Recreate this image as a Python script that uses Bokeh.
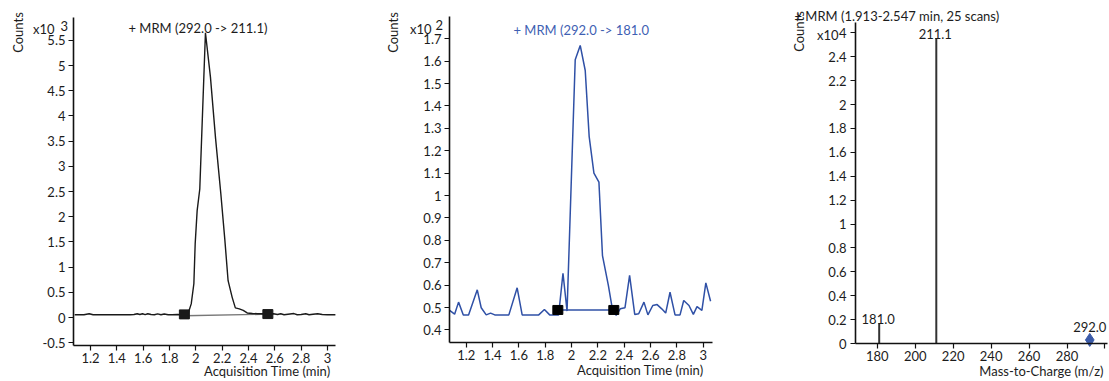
import math
from bokeh.plotting import figure
from bokeh.layouts import row
from bokeh.models import Range1d, FixedTicker, CustomJSTickFormatter, Label, ColumnDataSource
from bokeh.core.properties import value
from bokeh.embed import file_html
from bokeh.resources import INLINE

FONT = "Lato"
TXT = "#1c1c1c"
BLUE = "#2f50a6"
H = 381

# ---------------- data ----------------
# Panel 1: + MRM (292.0 -> 211.1), counts x10^3
t1 = [1.08, 1.12, 1.15, 1.19, 1.22, 1.26, 1.30, 1.34, 1.38, 1.42, 1.46, 1.50, 1.53, 1.555,
      1.575, 1.595, 1.615, 1.635, 1.66, 1.685, 1.71, 1.735, 1.76, 1.79, 1.82, 1.86, 1.90,
      1.94, 1.965, 1.985, 1.995, 2.01, 2.03, 2.073, 2.111, 2.15, 2.19, 2.22, 2.245, 2.276,
      2.30, 2.33, 2.36, 2.39, 2.43, 2.47, 2.51, 2.55, 2.59, 2.62, 2.645, 2.67, 2.70, 2.745,
      2.77, 2.80, 2.835, 2.86, 2.89, 2.925, 2.96, 3.00, 3.06]
v1 = [0.055, 0.055, 0.055, 0.075, 0.055, 0.055, 0.055, 0.055, 0.055, 0.055, 0.055, 0.055, 0.06, 0.075,
      0.06, 0.075, 0.058, 0.075, 0.06, 0.055, 0.072, 0.055, 0.07, 0.055, 0.055, 0.06, 0.055,
      0.07, 0.27, 0.67, 1.46, 2.12, 2.55, 5.65, 4.77, 3.55, 2.45, 1.55, 0.73, 0.40,
      0.19, 0.17, 0.14, 0.09, 0.08, 0.075, 0.075, 0.07, 0.075, 0.06, 0.075, 0.055, 0.065, 0.078,
      0.055, 0.06, 0.075, 0.055, 0.065, 0.075, 0.06, 0.055, 0.055]
int1_t = [1.913, 2.547]
int1_v = [0.062, 0.068]
base1_v = [0.035, 0.065]

# Panel 2: + MRM (292.0 -> 181.0), counts x10^2
t2 = [1.074, 1.112, 1.142, 1.178, 1.218, 1.284, 1.314, 1.352, 1.385, 1.417, 1.524, 1.587, 1.625,
      1.751, 1.794, 1.834, 1.902, 1.935, 1.966, 2.028, 2.066, 2.104, 2.134, 2.17, 2.208, 2.235,
      2.28, 2.31, 2.339, 2.37, 2.406, 2.441, 2.48, 2.51, 2.55, 2.58, 2.617, 2.65, 2.685, 2.715,
      2.748, 2.786, 2.824, 2.852, 2.892, 2.925, 2.953, 2.99, 3.02, 3.056]
v2 = [0.487, 0.47, 0.524, 0.467, 0.467, 0.579, 0.499, 0.467, 0.475, 0.467, 0.467, 0.588, 0.467,
      0.467, 0.491, 0.467, 0.467, 0.653, 0.484, 1.606, 1.67, 1.558, 1.263, 1.10, 1.06, 0.732,
      0.598, 0.494, 0.465, 0.494, 0.499, 0.643, 0.469, 0.472, 0.524, 0.467, 0.509, 0.513, 0.494, 0.475,
      0.568, 0.467, 0.467, 0.531, 0.509, 0.469, 0.504, 0.487, 0.61, 0.528]
int2_t = [1.896, 2.321]
int2_v = [0.489, 0.489]

# Panel 3: spectrum, counts x10^4
peak_mz = [181.0, 211.1]
peak_int = [0.17, 2.556]
peak_label = ["181.0", "211.1"]
prec_mz = [292.0]
prec_int = [0.03]
prec_label = ["292.0"]

# ticks
x_ticks_time = [1.2, 1.4, 1.6, 1.8, 2.0, 2.2, 2.4, 2.6, 2.8, 3.0]
x_labels_time = ["1.2", "1.4", "1.6", "1.8", "2", "2.2", "2.4", "2.6", "2.8", "3"]
y1_ticks = [-0.5, 0, 0.5, 1, 1.5, 2, 2.5, 3, 3.5, 4, 4.5, 5, 5.5]
y1_labels = ["-0.5", "0", "0.5", "1", "1.5", "2", "2.5", "3", "3.5", "4", "4.5", "5", "5.5"]
y2_ticks = [0.4, 0.5, 0.6, 0.7, 0.8, 0.9, 1.0, 1.1, 1.2, 1.3, 1.4, 1.5, 1.6, 1.7]
y2_labels = ["0.4", "0.5", "0.6", "0.7", "0.8", "0.9", "1", "1.1", "1.2", "1.3", "1.4", "1.5", "1.6", "1.7"]
x3_ticks = [180, 200, 220, 240, 260, 280, 300]
x3_labels = ["180", "200", "220", "240", "260", "280", ""]
y3_ticks = [0, 0.2, 0.4, 0.6, 0.8, 1.0, 1.2, 1.4, 1.6, 1.8, 2.0, 2.2, 2.4, 2.6]
y3_labels = ["0", "0.2", "0.4", "0.6", "0.8", "1", "1.2", "1.4", "1.6", "1.8", "2", "2.2", "2.4", "4"]


# ---------------- helpers ----------------
def fmt(tick_list, label_list):
    return CustomJSTickFormatter(args=dict(tk=tick_list, lb=label_list), code="""
        for (let i = 0; i < tk.length; i++) { if (Math.abs(tk[i] - tick) < 1e-9) return lb[i]; }
        return "";
    """)


def make_fig(width, xr, yr, x_axis_at, y_axis_at, xb, yb, xt, xl, yt, yl):
    p = figure(width=width, height=H, x_range=Range1d(*xr), y_range=Range1d(*yr),
               output_backend="svg", toolbar_location=None, title=None,
               min_border_left=0, min_border_right=0, min_border_top=0, min_border_bottom=0)
    p.outline_line_color = None
    p.grid.visible = False
    p.background_fill_color = "white"
    p.border_fill_color = "white"
    for ax in p.axis:
        ax.axis_line_color = "#111111"
        ax.axis_line_width = 1.6
        ax.major_tick_line_color = "#111111"
        ax.major_tick_line_width = 1.2
        ax.major_tick_in = 0
        ax.major_tick_out = 5
        ax.minor_tick_line_color = None
        ax.major_label_text_font = FONT
        ax.major_label_text_font_size = "13px"
        ax.major_label_text_color = TXT
    p.xaxis.fixed_location = x_axis_at
    p.yaxis.fixed_location = y_axis_at
    p.xaxis.bounds = xb
    p.yaxis.bounds = yb
    p.xaxis.ticker = FixedTicker(ticks=xt)
    p.xaxis.formatter = fmt(xt, xl)
    p.yaxis.ticker = FixedTicker(ticks=yt)
    p.yaxis.formatter = fmt(yt, yl)
    p.xaxis.major_label_standoff = 2
    p.yaxis.major_label_standoff = 3
    return p


def add_text(p, fig_left, ix, iy, text, align="left", color=TXT, angle=0.0, base="middle"):
    p.add_layout(Label(x=ix - fig_left, y=H - iy, x_units="screen", y_units="screen",
                       text=text, text_align=align, text_baseline=base, text_font=FONT,
                       text_font_size="13px", text_color=color, angle=angle))


# ---------------- panel 1 (image x 0..370) ----------------
k1 = 131.67   # px per minute
ky1 = 50.4    # px per 1e3 counts
x0_1 = 1.2 - 90 / k1
y0_1 = 317 / ky1
p1 = make_fig(370, (x0_1, x0_1 + 370 / k1), (y0_1 - H / ky1, y0_1),
              x_axis_at=y0_1 - 345 / ky1, y_axis_at=x0_1 + 73 / k1,
              xb=(x0_1 + 73 / k1, x0_1 + 335 / k1), yb=(y0_1 - 345 / ky1, y0_1 - 17 / ky1),
              xt=x_ticks_time, xl=x_labels_time, yt=y1_ticks, yl=y1_labels)
p1.line(int1_t, base1_v, line_color="#777777", line_width=1.3)
p1.line(t1, v1, line_color="#1a1a1a", line_width=1.4)
p1.rect(int1_t, int1_v, width=10, height=9, width_units="screen", height_units="screen",
        fill_color="#1a1a1a", line_color="#1a1a1a")
add_text(p1, 0, 17, 32, "Counts", align="center", angle=math.pi / 2)
add_text(p1, 0, 54, 28, "x10", align="right")
add_text(p1, 0, 60, 25, "3")
add_text(p1, 0, 128, 27, "+ MRM (292.0 -> 211.1)")
add_text(p1, 0, 330, 370, "Acquisition Time (min)", align="right")

# ---------------- panel 2 (image x 370..740) ----------------
k2 = 131.67
ky2 = 224.0
x0_2 = 1.2 - (465.7 - 370) / k2
y0_2 = 0.5 + 307 / ky2
p2 = make_fig(370, (x0_2, x0_2 + 370 / k2), (y0_2 - H / ky2, y0_2),
              x_axis_at=y0_2 - 342 / ky2, y_axis_at=x0_2 + 79 / k2,
              xb=(x0_2 + 79 / k2, x0_2 + 342 / k2), yb=(y0_2 - 342 / ky2, y0_2 - 16 / ky2),
              xt=x_ticks_time, xl=x_labels_time, yt=y2_ticks, yl=y2_labels)
p2.line(int2_t, int2_v, line_color=BLUE, line_width=1.5)
p2.line(t2, v2, line_color=BLUE, line_width=1.5)
p2.rect(int2_t, int2_v, width=10, height=9, width_units="screen", height_units="screen",
        fill_color="#000000", line_color="#000000")
add_text(p2, 370, 392, 32, "Counts", align="center", angle=math.pi / 2)
add_text(p2, 370, 431, 28, "x10", align="right")
add_text(p2, 370, 435, 24, "2")
add_text(p2, 370, 513, 29, "+ MRM (292.0 -> 181.0", color="#3f5fb3")
add_text(p2, 370, 703, 369, "Acquisition Time (min)", align="right")

# ---------------- panel 3 (image x 740..1109) ----------------
k3 = 1.897    # px per m/z unit
ky3 = 119.5   # px per 1e4 counts
x0_3 = 180 - (876.8 - 740) / k3
y0_3 = 343 / ky3
p3 = make_fig(369, (x0_3, x0_3 + 369 / k3), (y0_3 - H / ky3, y0_3),
              x_axis_at=0, y_axis_at=x0_3 + 115 / k3,
              xb=(x0_3 + 115 / k3, x0_3 + 367 / k3), yb=(0, y0_3 - 22 / ky3),
              xt=x3_ticks, xl=x3_labels, yt=y3_ticks, yl=y3_labels)
p3.yaxis.major_label_standoff = 4
src_pk = ColumnDataSource(dict(mz=peak_mz, inten=peak_int, lab=peak_label, zero=[0] * len(peak_mz)))
p3.segment(x0="mz", y0="zero", x1="mz", y1="inten", source=src_pk, line_color="#333333", line_width=2)
p3.text(x="mz", y="inten", text="lab", source=src_pk, text_align="center", text_baseline="bottom",
        text_font=value(FONT), text_font_size=value("13px"), text_color=TXT, x_offset=-1, y_offset=1)
src_pr = ColumnDataSource(dict(mz=prec_mz, inten=prec_int, lab=prec_label))
p3.scatter(x="mz", y="inten", source=src_pr, marker="diamond", size=13, fill_color="#3a5aa8",
           line_color="#3a5aa8")
p3.text(x="mz", y="inten", text="lab", source=src_pr, text_align="center", text_baseline="bottom",
        text_font=value(FONT), text_font_size=value("13px"), text_color=TXT, y_offset=-8)
add_text(p3, 740, 798, 31, "Counts", align="center", angle=math.pi / 2)
add_text(p3, 740, 838, 34, "x10", align="right")
add_text(p3, 740, 794, 15, "+ MRM (1.913-2.547 min, 25 scans)")
add_text(p3, 740, 1103, 370, "Mass-to-Charge (m/z)", align="right")

layout = row(p1, p2, p3)
open("out.html", "w").write(file_html(layout, INLINE))
